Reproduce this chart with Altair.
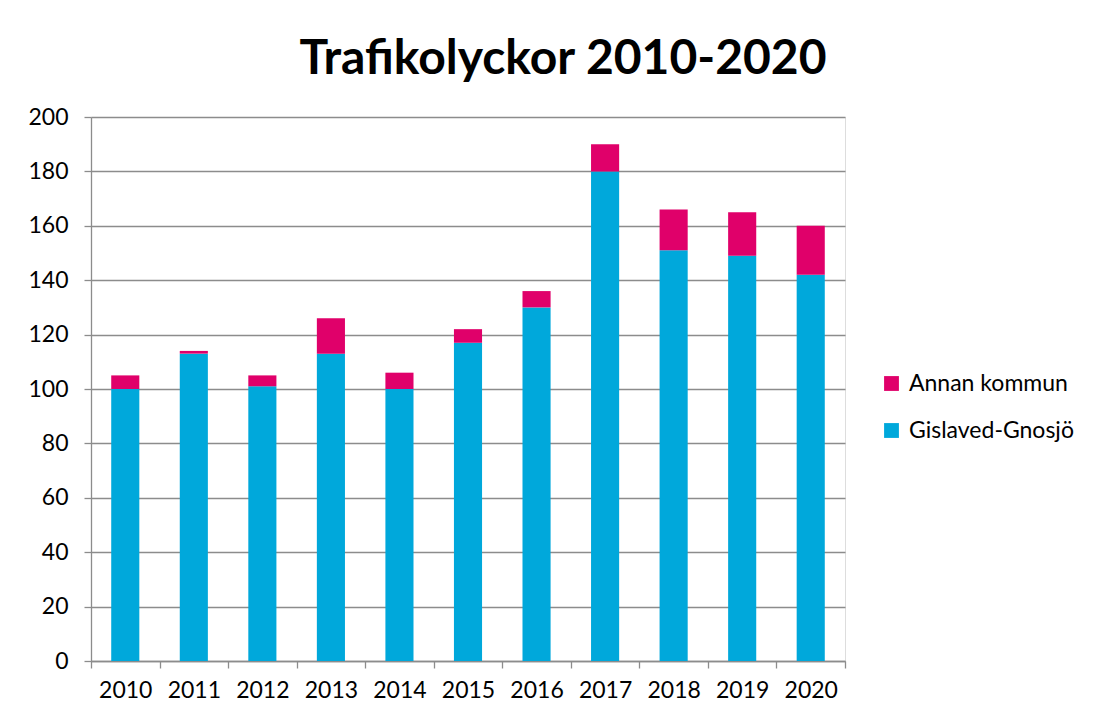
import altair as alt
import pandas as pd

years = ["2010", "2011", "2012", "2013", "2014", "2015", "2016", "2017", "2018", "2019", "2020"]
gislaved = [100, 113, 101, 113, 100, 117, 130, 180, 151, 149, 142]
annan = [5, 1, 4, 13, 6, 5, 6, 10, 15, 16, 18]
series = ["Annan kommun", "Gislaved-Gnosjö"]
colors = ["#E0006A", "#00A8DB"]

rows = []
for i, y in enumerate(years):
    rows.append({"year": y, "serie": "Gislaved-Gnosjö", "value": gislaved[i], "ord": 0})
    rows.append({"year": y, "serie": "Annan kommun", "value": annan[i], "ord": 1})
df = pd.DataFrame(rows)

FONT = "Lato"

chart = alt.Chart(df).mark_bar(width=alt.RelativeBandSize(0.41)).encode(
    x=alt.X("year:N", title=None,
            scale=alt.Scale(paddingInner=0, paddingOuter=0),
            axis=alt.Axis(labelAngle=0, tickBand="extent", tickSize=7, labelPadding=11,
                          labelFontSize=23, labelColor="#000", labelFont=FONT,
                          domainColor="#8c8c8c", tickColor="#8c8c8c", domainWidth=1.3, tickWidth=1.3)),
    y=alt.Y("value:Q", title=None, stack="zero",
            scale=alt.Scale(domain=[0, 200], nice=False),
            axis=alt.Axis(values=list(range(0, 201, 20)), tickSize=7, labelPadding=16,
                          labelFontSize=23, labelColor="#000", labelFont=FONT,
                          domainColor="#8c8c8c", tickColor="#8c8c8c", domainWidth=1.3, tickWidth=1.3,
                          gridColor="#8c8c8c", gridWidth=1.3)),
    color=alt.Color("serie:N", scale=alt.Scale(domain=series, range=colors),
                    legend=alt.Legend(title=None, orient="none", legendX=789, legendY=255,
                                      symbolType="square", symbolSize=220, symbolStrokeWidth=0,
                                      labelFontSize=23, labelFont=FONT, labelColor="#000",
                                      labelLimit=300, rowPadding=23, labelOffset=6)),
    order=alt.Order("ord:Q"),
).properties(
    width=754, height=544,
    title=alt.TitleParams("Trafikolyckor 2010-2020", fontSize=48, font=FONT, fontWeight="bold",
                          color="#000", anchor="middle", dx=95, offset=22),
    autosize=alt.AutoSizeParams(type="none"),
    padding={"left": 83, "top": 109, "right": 245, "bottom": 55},
).configure_view(stroke=None).configure(background="white")

chart.save("out.html", embed_options={"renderer": "svg", "actions": False})
